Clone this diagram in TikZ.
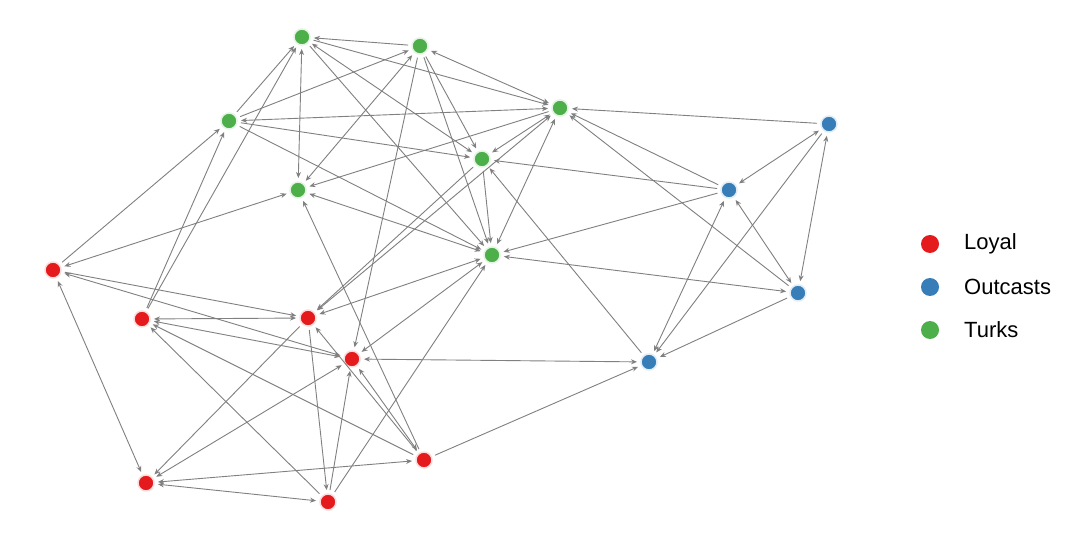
\documentclass[tikz,border=0pt]{standalone}
\usepackage{fontspec}
\setmainfont{Liberation Sans}
\usetikzlibrary{arrows.meta}
\definecolor{loyal}{HTML}{E41A1C}
\definecolor{outc}{HTML}{377EB8}
\definecolor{turk}{HTML}{4DAF4A}
\definecolor{edgegray}{HTML}{808080}
\tikzset{
  vtx/.style={circle, inner sep=0pt, minimum size=16pt, outer sep=4pt, line width=1.5pt},
  rnode/.style={vtx, fill=loyal, draw=loyal!15},
  bnode/.style={vtx, fill=outc, draw=outc!15},
  gnode/.style={vtx, fill=turk, draw=turk!15},
  edge/.style={draw=edgegray, line width=0.9pt, arrows={-Stealth[length=6pt,width=5pt]}},
  bedge/.style={draw=edgegray, line width=0.9pt, arrows={Stealth[length=6pt,width=5pt]-Stealth[length=6pt,width=5pt]}},
  legdot/.style={circle, inner sep=0pt, minimum size=18pt},
  legtext/.style={anchor=west, inner sep=0pt, font=\fontsize{22}{26}\selectfont}
}
\begin{document}
\begin{tikzpicture}[x=1pt,y=-1pt]
\useasboundingbox[fill=white] (0,0) rectangle (1080,540);
% Turks
\node[gnode] (G1) at (302,37) {};
\node[gnode] (G2) at (420,46) {};
\node[gnode] (G3) at (229,121) {};
\node[gnode] (G4) at (560,108) {};
\node[gnode] (G5) at (482,159) {};
\node[gnode] (G6) at (298,190) {};
\node[gnode] (G7) at (492,255) {};
% Outcasts
\node[bnode] (B1) at (829,124) {};
\node[bnode] (B2) at (729,190) {};
\node[bnode] (B3) at (798,293) {};
\node[bnode] (B4) at (649,362) {};
% Loyal
\node[rnode] (R1) at (53,270) {};
\node[rnode] (R2) at (142,319) {};
\node[rnode] (R3) at (308,318) {};
\node[rnode] (R4) at (352,359) {};
\node[rnode] (R5) at (424,460) {};
\node[rnode] (R6) at (146,483) {};
\node[rnode] (R7) at (328,502) {};
% Outcast edges
\draw[edge] (B1) -- (G4);
\draw[bedge] (B1) -- (B2);
\draw[bedge] (B1) -- (B3);
\draw[edge] (B1) -- (B4);
\draw[edge] (B2) -- (G4);
\draw[edge] (B2) -- (G5);
\draw[edge] (B2) -- (G7);
\draw[bedge] (B2) -- (B3);
\draw[bedge] (B2) -- (B4);
\draw[edge] (B3) -- (G4);
\draw[bedge] (B3) -- (G7);
\draw[edge] (B3) -- (B4);
\draw[edge] (B4) -- (G5);
\draw[edge] (R5) -- (B4);
\draw[bedge] (R4) -- (B4);
% Turk edges
\draw[edge] (G2) -- (G1);
\draw[edge] (G3) -- (G1);
\draw[bedge] (G1) -- (G6);
\draw[edge] (G3) -- (G2);
\draw[edge] (G1) -- (G4);
\draw[bedge] (G2) -- (G4);
\draw[bedge] (G3) -- (G4);
\draw[edge] (G3) -- (G5);
\draw[edge] (G3) -- (G7);
\draw[bedge] (G2) -- (G6);
\draw[bedge] (G1) -- (G5);
\draw[edge] (G2) -- (G5);
\draw[edge] (G2) -- (G7);
\draw[edge] (G5) -- (G7);
\draw[bedge] (G4) -- (G7);
\draw[bedge] (G4) -- (G5);
\draw[edge] (G4) -- (G6);
\draw[bedge] (G6) -- (G7);
\draw[edge] (G1) -- (G7);
% Mixed edges
\draw[edge] (R1) -- (G3);
\draw[bedge] (R1) -- (G6);
\draw[edge] (R2) -- (G3);
\draw[edge] (R2) -- (G1);
\draw[edge] (G2) -- (R4);
\draw[edge] (R5) -- (G6);
\draw[bedge] (G4) -- (R3);
\draw[edge] (G5) -- (R3);
\draw[bedge] (R3) -- (G7);
\draw[bedge] (R4) -- (G7);
\draw[edge] (R7) -- (G7);
% Loyal edges
\draw[bedge] (R1) -- (R6);
\draw[edge] (R1) -- (R3);
\draw[bedge] (R1) -- (R4);
\draw[bedge] (R2) -- (R3);
\draw[bedge] (R2) -- (R4);
\draw[edge] (R5) -- (R2);
\draw[edge] (R7) -- (R2);
\draw[edge] (R3) -- (R6);
\draw[bedge] (R6) -- (R4);
\draw[bedge] (R6) -- (R7);
\draw[bedge] (R6) -- (R5);
\draw[edge] (R3) -- (R7);
\draw[edge] (R7) -- (R4);
\draw[bedge] (R4) -- (R5);
\draw[edge] (R5) -- (R3);
% Legend
\node[legdot, fill=loyal] (L1) at (930,244) {};
\node[legtext] (L1t) at (964,244) {Loyal};
\node[legdot, fill=outc] (L2) at (930,287) {};
\node[legtext] (L2t) at (964,287) {Outcasts};
\node[legdot, fill=turk] (L3) at (930,330) {};
\node[legtext] (L3t) at (964,330) {Turks};
\end{tikzpicture}
\end{document}
